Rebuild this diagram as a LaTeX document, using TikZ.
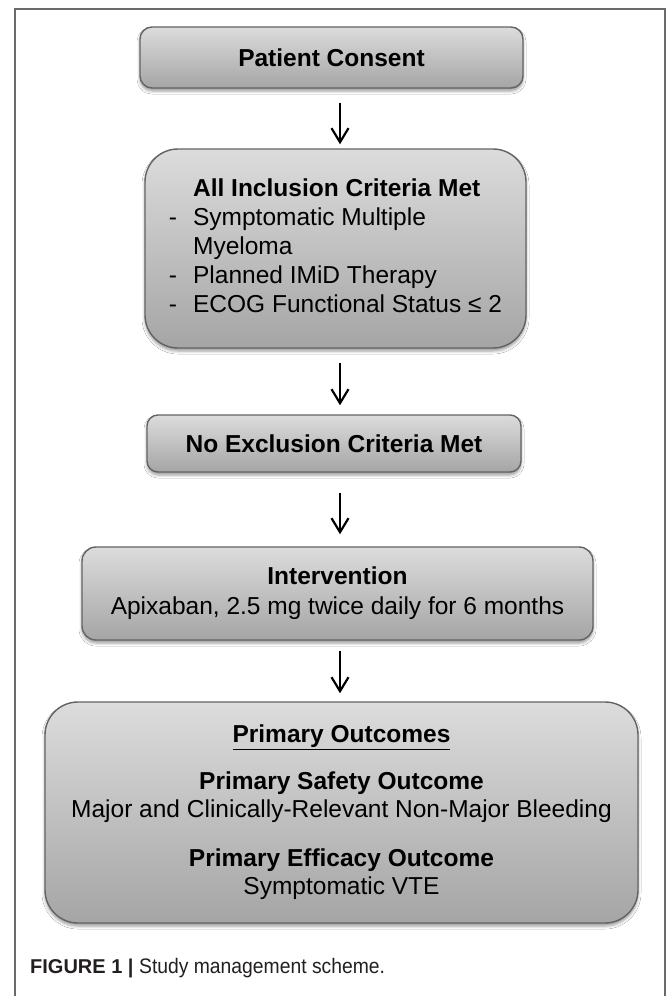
\documentclass[tikz,border=0pt]{standalone}
\usepackage{fontspec}
\setmainfont{Liberation Sans}
\usepackage{graphicx}
\usetikzlibrary{arrows.meta,shadows.blur}
\definecolor{boxtop}{HTML}{DCDCDC}
\definecolor{boxbot}{HTML}{A5A5A5}
\definecolor{boxline}{HTML}{636363}
\definecolor{framecol}{HTML}{6A6A6A}
\definecolor{captext}{HTML}{231F20}
\begin{document}
\begin{tikzpicture}[x=1pt,y=-1pt,
  flowbox/.style={draw=boxline, line width=1.4pt, top color=boxtop, bottom color=boxbot,
    inner sep=0pt, align=center, text=black,
    blur shadow={shadow xshift=0pt, shadow yshift=-3pt, shadow blur radius=3pt, shadow opacity=40}},
  flowarrow/.style={draw=black, line width=2.2pt, -{Straight Barb[length=14pt,width=17pt]}},
  framestyle/.style={draw=framecol, line width=1.2pt},
]
\fill[white] (0,0) rectangle (671,996);
\useasboundingbox (0,0) rectangle (671,996);

% outer frame
\draw[framestyle] (15,996) -- (15,9) -- (665,9) -- (665,996);

% boxes
\node[flowbox, font=\fontsize{24.5}{29}\selectfont, minimum width=383pt, minimum height=61pt,
  rounded corners=12pt] (b1) at (331.5,57.5) {\textbf{Patient Consent}};

\node[flowbox, font=\fontsize{24.5}{29}\selectfont, minimum width=381pt, minimum height=199pt,
  rounded corners=33pt] (b2) at (335.5,248.5) {%
  \begin{tabular}{@{}l@{\hspace{16pt}}l@{}}
   & \textbf{All Inclusion Criteria Met}\\
  - & Symptomatic Multiple\\
   & Myeloma\\
  - & Planned IMiD Therapy\\
  - & ECOG Functional Status ≤ 2
  \end{tabular}};

\node[flowbox, font=\fontsize{24.5}{29}\selectfont, minimum width=374pt, minimum height=57pt,
  rounded corners=11pt] (b3) at (334,443.5) {\textbf{No Exclusion Criteria Met}};

\node[flowbox, font=\fontsize{24.5}{30}\selectfont, minimum width=511pt, minimum height=93pt,
  rounded corners=14pt] (b4) at (337.5,593.5) {\textbf{Intervention}\\Apixaban, 2.5 mg twice daily for 6 months};

\node[flowbox, font=\fontsize{24.5}{28}\selectfont, minimum width=593pt, minimum height=221pt,
  rounded corners=33pt] (b5) at (341.5,812.5) {%
  \underline{\textbf{Primary Outcomes}}\\[19pt]
  \textbf{Primary Safety Outcome}\\
  Major and Clinically-Relevant Non-Major Bleeding\\[21pt]
  \textbf{Primary Efficacy Outcome}\\
  Symptomatic VTE};

% arrows
\coordinate (ax) at (340,0);
\draw[flowarrow, shorten <=14pt, shorten >=4pt] (b1.south -| ax) -- (b2.north -| ax);
\draw[flowarrow, shorten <=14pt, shorten >=9pt] (b2.south -| ax) -- (b3.north -| ax);
\draw[flowarrow, shorten <=20pt, shorten >=12pt] (b3.south -| ax) -- (b4.north -| ax);
\draw[flowarrow, shorten <=10pt, shorten >=8pt] (b4.south -| ax) -- (b5.north -| ax);

% caption
\node[anchor=west, text=captext, inner sep=0pt] (cap) at (30,968)
  {\fontsize{20}{24}\selectfont\textbf{FIGURE 1 |} \scalebox{0.92}[1]{\fontsize{21}{24}\selectfont Study management scheme.}};
\end{tikzpicture}
\end{document}
